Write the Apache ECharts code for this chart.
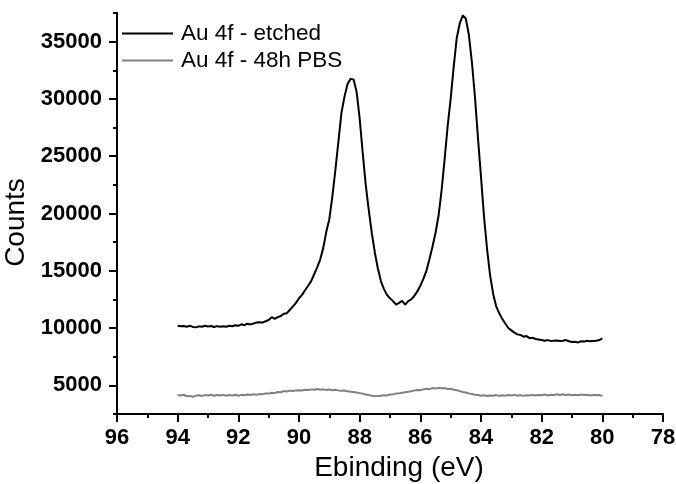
<!DOCTYPE html>
<html><head><meta charset="utf-8">
<script src="https://cdn.jsdelivr.net/npm/echarts@6/dist/echarts.min.js"></script>
<style>html,body{margin:0;padding:0;background:#fff}#c{width:676px;height:484px}</style>
</head><body><div id="c"></div>
<script>
const energy = [
94.0,93.9,93.8,93.7,93.6,93.5,93.4,93.3,93.2,93.1,
93.0,92.9,92.8,92.7,92.6,92.5,92.4,92.3,92.2,92.1,
92.0,91.9,91.8,91.7,91.6,91.5,91.4,91.3,91.2,91.1,
91.0,90.9,90.8,90.7,90.6,90.5,90.4,90.3,90.2,90.1,
90.0,89.9,89.8,89.7,89.6,89.5,89.4,89.3,89.2,89.1,
89.0,88.9,88.8,88.7,88.6,88.5,88.4,88.3,88.2,88.1,
88.0,87.9,87.8,87.7,87.6,87.5,87.4,87.3,87.2,87.1,
87.0,86.9,86.8,86.7,86.6,86.5,86.4,86.3,86.2,86.1,
86.0,85.9,85.8,85.7,85.6,85.5,85.4,85.3,85.2,85.1,
85.0,84.9,84.8,84.7,84.6,84.5,84.4,84.3,84.2,84.1,
84.0,83.9,83.8,83.7,83.6,83.5,83.4,83.3,83.2,83.1,
83.0,82.9,82.8,82.7,82.6,82.5,82.4,82.3,82.2,82.1,
82.0,81.9,81.8,81.7,81.6,81.5,81.4,81.3,81.2,81.1,
81.0,80.9,80.8,80.7,80.6,80.5,80.4,80.3,80.2,80.1,
80.0];
const etched = [
10200,10150,10180,10120,10200,10100,10060,10150,10120,10200,
10130,10180,10100,10170,10120,10150,10110,10200,10160,10250,
10200,10330,10250,10380,10320,10400,10480,10500,10480,10600,
10700,10950,10800,10950,11050,11250,11300,11600,11900,12200,
12600,12900,13300,13700,14100,14700,15300,16000,17000,18400,
19500,21500,23800,26300,28800,30200,31300,31750,31700,30600,
28300,25300,22500,20300,18300,16600,15200,14100,13400,12900,
12600,12350,12050,12200,12380,12050,12350,12500,12800,13200,
13700,14300,15000,16000,17100,18300,19800,22000,24700,27600,
30000,32800,35300,36600,37300,37000,35600,33200,30200,26600,
23200,19700,16900,14600,13000,11900,11300,10800,10400,10000,
9800,9600,9450,9400,9250,9300,9120,9150,9050,9000,
8950,8900,8950,8880,8900,8920,8880,8900,8950,8850,
8780,8800,8750,8850,8820,8900,8850,8880,8900,8950,
9100];
const pbs = [
4150,4120,4180,4050,4080,4000,4100,4130,4080,4150,
4120,4180,4100,4150,4120,4170,4100,4160,4120,4180,
4100,4170,4140,4200,4160,4220,4180,4250,4230,4300,
4280,4350,4320,4420,4400,4500,4470,4540,4500,4560,
4580,4550,4620,4590,4650,4610,4680,4620,4650,4600,
4640,4580,4620,4560,4530,4550,4480,4450,4420,4380,
4320,4280,4200,4150,4100,4080,4060,4100,4140,4120,
4200,4220,4280,4300,4350,4400,4450,4480,4560,4600,
4580,4650,4700,4680,4760,4720,4780,4740,4760,4680,
4700,4620,4580,4500,4420,4380,4300,4250,4180,4150,
4100,4130,4080,4120,4100,4150,4080,4130,4100,4160,
4120,4170,4100,4150,4080,4140,4120,4170,4110,4160,
4140,4200,4120,4180,4150,4220,4160,4230,4150,4200,
4130,4180,4140,4200,4150,4190,4120,4170,4140,4160,
4080];
const seriesNames = ['Au 4f - etched', 'Au 4f - 48h PBS'];
const yMajorTicks = [5000,10000,15000,20000,25000,30000,35000];
const yMinorTicks = [2500,7500,12500,17500,22500,27500,32500,37500];
const xTitle = 'Ebinding (eV)';
const yTitle = 'Counts';

const FONT = 'Liberation Sans, Arial, sans-serif';
const chart = echarts.init(document.getElementById('c'), null, {renderer:'canvas'});
chart.setOption({
  animation:false,
  backgroundColor:'#fff',
  grid:{left:117,right:13,top:13,bottom:70,containLabel:false,outerBoundsMode:'none'},
  legend:{
    left:122, top:22, orient:'vertical', padding:0, itemWidth:51, itemHeight:2, itemGap:4,
    icon:'rect',
    textStyle:{fontFamily:FONT,fontSize:22.5,color:'#000',padding:[0,0,0,3]},
    data:seriesNames
  },
  xAxis:{
    type:'value', min:78, max:96, interval:2, inverse:true,
    axisLine:{show:true,onZero:false,lineStyle:{color:'#000',width:2}},
    axisTick:{show:true,length:8,lineStyle:{color:'#000',width:2}},
    minorTick:{show:true,splitNumber:2,length:4,lineStyle:{color:'#000',width:2}},
    axisLabel:{margin:13,fontFamily:FONT,fontSize:22,fontWeight:'bold',color:'#000',formatter:v=>String(v)},
    splitLine:{show:false},
    name:xTitle, nameLocation:'middle', nameGap:40,
    nameTextStyle:{fontFamily:FONT,fontSize:28,color:'#000',padding:[0,0,0,18]}
  },
  yAxis:[{
    type:'value', min:2500, max:37500, position:'left',
    axisLine:{show:true,onZero:false,lineStyle:{color:'#000',width:2}},
    axisTick:{show:true,length:8,customValues:yMajorTicks,lineStyle:{color:'#000',width:2}},
    axisLabel:{customValues:yMajorTicks,margin:15,fontFamily:FONT,fontSize:22,fontWeight:'bold',color:'#000',formatter:v=>String(v)},
    splitLine:{show:false},
    name:yTitle, nameLocation:'middle', nameGap:76,
    nameTextStyle:{fontFamily:FONT,fontSize:28,color:'#000',padding:[0,18,0,0]}
  },{
    type:'value', min:2500, max:37500, position:'left', offset:0,
    axisLine:{show:false},
    axisTick:{show:true,length:4,customValues:yMinorTicks,lineStyle:{color:'#000',width:2}},
    axisLabel:{show:false},
    splitLine:{show:false}
  }],
  series:[{
    name:seriesNames[0], type:'line', yAxisIndex:0, showSymbol:false, symbol:'none',
    lineStyle:{color:'#000',width:2}, itemStyle:{color:'#000'},
    data: energy.map((e,i)=>[e, etched[i]])
  },{
    name:seriesNames[1], type:'line', yAxisIndex:0, showSymbol:false, symbol:'none',
    lineStyle:{color:'#808080',width:2}, itemStyle:{color:'#808080'},
    data: energy.map((e,i)=>[e, pbs[i]])
  }]
});
</script></body></html>
